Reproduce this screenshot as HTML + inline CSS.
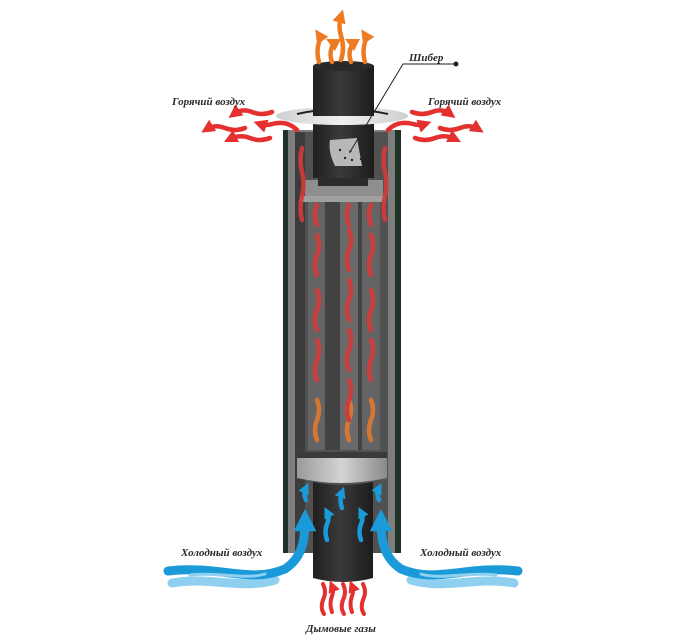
<!DOCTYPE html>
<html><head><meta charset="utf-8"><style>
html,body{margin:0;padding:0;background:#fff;width:700px;height:643px;overflow:hidden}
svg{display:block}
text{font-family:"Liberation Serif","DejaVu Serif",serif;font-style:italic;font-weight:bold;font-size:11px;fill:#2a2a2a}
</style></head><body>
<svg width="700" height="643" viewBox="0 0 700 643" xmlns="http://www.w3.org/2000/svg">
<defs>
<linearGradient id="pipe" x1="0" x2="1"><stop offset="0" stop-color="#1f1f1f"/><stop offset=".45" stop-color="#3a3a3a"/><stop offset="1" stop-color="#1c1c1c"/></linearGradient>
<linearGradient id="ring" x1="0" x2="1"><stop offset="0" stop-color="#9a9a9a"/><stop offset=".5" stop-color="#d4d4d4"/><stop offset="1" stop-color="#8a8a8a"/></linearGradient>
<linearGradient id="flange" x1="0" x2="1"><stop offset="0" stop-color="#cfcfcf"/><stop offset=".5" stop-color="#f0f0f0"/><stop offset="1" stop-color="#cfcfcf"/></linearGradient>
<marker id="ar" viewBox="0 0 10 10" refX="5" refY="5" markerWidth="3" markerHeight="3" orient="auto"><path d="M0,0L10,5L0,10z" fill="#e53030"/></marker>
<marker id="ao" viewBox="0 0 10 10" refX="5" refY="5" markerWidth="3" markerHeight="3" orient="auto"><path d="M0,0L10,5L0,10z" fill="#ee7a22"/></marker>
<marker id="ab" viewBox="0 0 10 10" refX="5" refY="5" markerWidth="2.5" markerHeight="2.5" orient="auto"><path d="M0,0L10,5L0,10z" fill="#1a9ad8"/></marker>
<marker id="ad" viewBox="0 0 10 10" refX="5" refY="5" markerWidth="3" markerHeight="3" orient="auto"><path d="M0,0L10,5L0,10z" fill="#222"/></marker>
</defs>

<rect x="283" y="130" width="118" height="423" fill="#1f3226"/>
<rect x="288" y="130" width="107" height="423" fill="#7e7e7e"/>
<rect x="295" y="132" width="93" height="421" fill="#515151"/>
<rect x="295" y="132" width="10" height="421" fill="#3c3c3c"/>
<rect x="308" y="198" width="17" height="252" fill="#646464"/>
<rect x="325" y="198" width="15" height="252" fill="#424242"/>
<rect x="340" y="198" width="18" height="252" fill="#6a6a6a"/>
<rect x="358" y="198" width="4" height="252" fill="#424242"/>
<rect x="362" y="198" width="18" height="252" fill="#646464"/>
<rect x="305" y="180" width="78" height="20" fill="#8e8e8e"/>
<rect x="318" y="172" width="50" height="14" fill="#2b2b2b"/>
<rect x="300" y="196" width="85" height="6" fill="#a0a0a0"/>
<rect x="313" y="118" width="61" height="60" fill="url(#pipe)"/>
<path d="M330,140 L357,138 L362,166 L335,166 Q328,152 330,140z" fill="#b8b8b8"/>
<g fill="#222"><circle cx="340" cy="150" r="1.2"/><circle cx="345" cy="158" r="1.2"/><circle cx="352" cy="160" r="1.2"/><circle cx="361" cy="142" r="1.2"/><circle cx="361" cy="151" r="1.2"/><circle cx="361" cy="159" r="1.2"/></g>
<ellipse cx="342" cy="116" rx="66" ry="9" fill="url(#flange)"/>
<path d="M297,114 Q342,104 388,114" stroke="#222" stroke-width="2" fill="none"/>
<rect x="313" y="66" width="61" height="50" fill="url(#pipe)"/>
<ellipse cx="343.5" cy="66" rx="30.5" ry="5" fill="#2a2a2a"/>
<rect x="297" y="452" width="90" height="8" fill="#3a3a3a"/>
<path d="M297,458 L387,458 L387,478 Q342,488 297,478z" fill="url(#ring)"/>
<path d="M313,482 Q343,488 373,482 L373,578 Q343,586 313,578z" fill="url(#pipe)"/>

<g stroke="#d63a3a" stroke-width="4.5" fill="none" opacity=".9" stroke-linecap="round">
<path d="M317,440 q-4,-10 0,-20 q4,-10 0,-20" stroke="#e07a30"/><path d="M349,440 q-4,-10 0,-20 q4,-10 0,-20" stroke="#e07a30"/><path d="M371,440 q-4,-10 0,-20 q4,-10 0,-20" stroke="#e07a30"/>
<path d="M317,380 q-4,-10 0,-20 q4,-10 0,-20"/><path d="M317,330 q-4,-10 0,-20 q4,-10 0,-20"/><path d="M317,275 q-4,-10 0,-20 q4,-10 0,-20"/><path d="M317,225 q-4,-10 0,-20"/>
<path d="M349,420 q-4,-10 0,-20 q4,-10 0,-20"/><path d="M349,370 q-4,-10 0,-20 q4,-10 0,-20"/><path d="M349,320 q-4,-10 0,-20 q4,-10 0,-20"/><path d="M349,270 q-4,-10 0,-20 q4,-10 0,-20"/><path d="M349,225 q-4,-10 0,-20"/>
<path d="M371,380 q-4,-10 0,-20 q4,-10 0,-20"/><path d="M371,330 q-4,-10 0,-20 q4,-10 0,-20"/><path d="M371,275 q-4,-10 0,-20 q4,-10 0,-20"/><path d="M371,225 q-4,-10 0,-20"/>
<path d="M302,220 q-3,-12 0,-24 q3,-12 0,-24 q-3,-12 0,-24"/><path d="M385,220 q-3,-12 0,-24 q3,-12 0,-24 q-3,-12 0,-24"/>
</g>
<g stroke="#1a9ad8" stroke-width="4.5" fill="none" stroke-linecap="round" marker-end="url(#ab)">
<path d="M306,500 q-3,-6 0,-12"/><path d="M342,508 q-3,-8 0,-16"/><path d="M379,500 q-3,-6 0,-12"/>
<path d="M327,540 q-3,-8 0,-16 q3,-6 0,-12"/><path d="M361,540 q-3,-8 0,-16 q3,-6 0,-12"/>
</g>
<g fill="none" stroke-linecap="round">
<path d="M172,583 C210,576 240,590 275,580" stroke="#8fd0f0" stroke-width="9"/>
<path d="M168,571 C220,565 250,584 285,569 C300,559 305,545 305,520" stroke="#1a9ad8" stroke-width="9" marker-end="url(#ab)"/>
<path d="M190,575 C220,572 245,580 265,574" stroke="#8fd0f0" stroke-width="3"/>
<path d="M514,583 C476,576 446,590 411,580" stroke="#8fd0f0" stroke-width="9"/>
<path d="M518,571 C466,565 436,584 401,569 C386,559 381,545 381,520" stroke="#1a9ad8" stroke-width="9" marker-end="url(#ab)"/>
<path d="M496,575 C466,572 441,580 421,574" stroke="#8fd0f0" stroke-width="3"/>
</g>
<g stroke="#ee7a22" stroke-width="4.5" fill="none" stroke-linecap="round" marker-end="url(#ao)">
<path d="M319,62 q-3,-10 0,-20 q2,-4 0,-7"/><path d="M332,62 q-3,-8 0,-15 q2,-4 0,-5"/><path d="M341,60 q4,-12 0,-24 q-3,-10 0,-20"/><path d="M351,62 q-3,-8 0,-15 q2,-4 0,-5"/><path d="M365,62 q-3,-10 0,-20 q2,-4 0,-7"/>
</g>
<g stroke="#e53030" stroke-width="4.5" fill="none" stroke-linecap="round" marker-end="url(#ar)">
<path d="M272,112 q-10,4 -20,0 q-10,-4 -18,2"/><path d="M245,128 q-10,4 -20,0 q-10,-4 -18,1"/><path d="M270,138 q-10,4 -20,0 q-10,-4 -20,1"/><path d="M297,130 q-10,-10 -25,-6 q-6,2 -12,0"/>
<path d="M412,112 q10,4 20,0 q10,-4 18,2"/><path d="M440,128 q10,4 20,0 q10,-4 18,1"/><path d="M415,138 q10,4 20,0 q10,-4 20,1"/><path d="M388,130 q10,-10 25,-6 q6,2 12,0"/>
</g>
<g stroke="#e53030" stroke-width="4" fill="none" stroke-linecap="round">
<path d="M323,584 q4,8 0,16 q-3,8 1,14"/><path d="M332,612 q-3,-8 0,-16 q2,-5 0,-10" marker-end="url(#ar)"/><path d="M343,584 q4,8 0,16 q-3,8 1,14"/><path d="M352,612 q-3,-8 0,-16 q2,-5 0,-10" marker-end="url(#ar)"/><path d="M363,584 q4,8 0,16 q-3,8 1,14"/>
</g>
<polyline points="455,64 403,64 350,152" stroke="#222" stroke-width="1" fill="none" marker-end="url(#ad)"/>
<circle cx="456" cy="64" r="2.5" fill="#222"/>
<text x="409" y="61">Шибер</text>
<text x="172" y="105">Горячий воздух</text>
<text x="428" y="105">Горячий воздух</text>
<text x="181" y="556">Холодный воздух</text>
<text x="420" y="556">Холодный воздух</text>
<text x="306" y="632">Дымовые газы</text>
</svg>
</body></html>
